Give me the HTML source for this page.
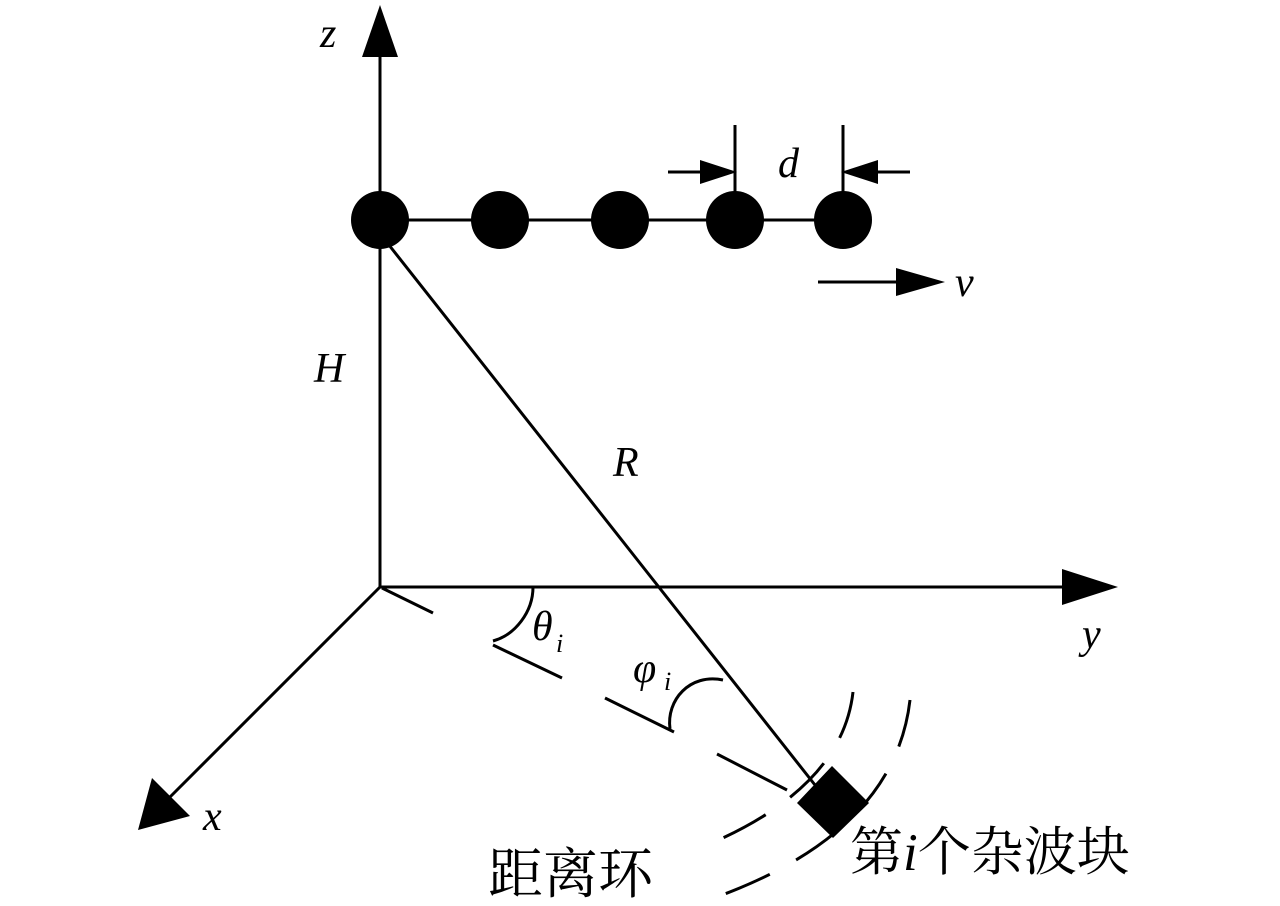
<!DOCTYPE html>
<html><head><meta charset="utf-8"><style>
body{margin:0;background:#fff;width:1280px;height:901px;overflow:hidden}
svg text{font-family:"Liberation Serif","Noto Serif CJK SC",serif}
</style></head><body>
<svg width="1280" height="901" viewBox="0 0 1280 901" xmlns="http://www.w3.org/2000/svg">
<g stroke="#000" stroke-width="3" fill="none">
<line x1="380" y1="587" x2="380" y2="50"/>
<line x1="380" y1="587" x2="1065" y2="587"/>
<line x1="380" y1="587" x2="170" y2="797"/>
<line x1="380" y1="220" x2="843" y2="220"/>
<line x1="385" y1="240" x2="815" y2="785"/>
<line x1="735" y1="125" x2="735" y2="192"/>
<line x1="843" y1="125" x2="843" y2="192"/>
<line x1="668" y1="172" x2="705" y2="172"/>
<line x1="910" y1="172" x2="873" y2="172"/>
<line x1="818" y1="282" x2="900" y2="282"/>
<line x1="382" y1="588" x2="433" y2="613"/>
<line x1="493" y1="645" x2="562" y2="678"/>
<line x1="605" y1="698" x2="674" y2="732"/>
<line x1="717" y1="754" x2="787" y2="790"/>
<path d="M533,587 C533,612 515,635 493,641"/>
<path d="M670,729 C666,700 690,673 723,680"/>
<path d="M853,692 Q842,790 700,848" stroke-dasharray="48 30"/>
<path d="M910,700 Q895,830 722,895" stroke-dasharray="48 30"/>
</g>
<g fill="#000">
<polygon points="380,5 362,57 398,57"/>
<polygon points="1118,587 1062,569 1062,605"/>
<polygon points="138,830 152,778 190,816"/>
<polygon points="737,172 700,160 700,184"/>
<polygon points="841,172 878,160 878,184"/>
<polygon points="945,282 896,268 896,296"/>
<circle cx="380" cy="220" r="29"/>
<circle cx="500" cy="220" r="29"/>
<circle cx="620" cy="220" r="29"/>
<circle cx="735" cy="220" r="29"/>
<circle cx="843" cy="220" r="29"/>
<polygon points="797,803 832,766 869,803 833,838"/>
</g>
<g font-style="italic" font-size="42">
<text x="320" y="47">z</text>
<text x="778" y="177">d</text>
<text x="955" y="296">v</text>
<text x="314" y="382">H</text>
<text x="613" y="476">R</text>
<text x="1082" y="648">y</text>
<text x="203" y="830">x</text>
<text x="532" y="640">θ</text><text x="556" y="652" font-size="26">i</text>
<text x="633" y="682">φ</text><text x="664" y="690" font-size="26">i</text>
</g>
<text x="488" y="893" font-size="55">距离环</text>
<text x="850" y="870" font-size="53">第<tspan font-style="italic">i</tspan>个杂波块</text>
</svg>
</body></html>
